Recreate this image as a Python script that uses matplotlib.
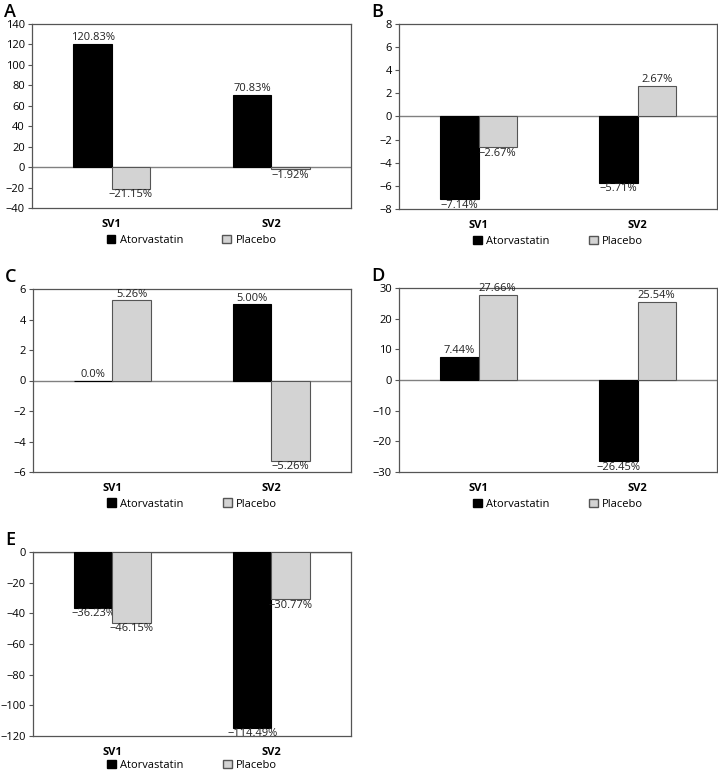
import matplotlib.pyplot as plt
from matplotlib.patches import Patch

plt.rcParams['font.family'] = ['Open Sans', 'DejaVu Sans']

groups = ["SV1", "SV2"]
series = ["Atorvastatin", "Placebo"]

atorva_A = [120.83, 70.83]
placebo_A = [-21.15, -1.92]
atorva_B = [-7.14, -5.71]
placebo_B = [-2.67, 2.67]
atorva_C = [0.0, 5.00]
placebo_C = [5.26, -5.26]
atorva_D = [7.44, -26.45]
placebo_D = [27.66, 25.54]
atorva_E = [-36.23, -114.49]
placebo_E = [-46.15, -30.77]

labels_A = [["120.83%", "70.83%"], ["\u221221.15%", "\u22121.92%"]]
labels_B = [["\u22127.14%", "\u22125.71%"], ["\u22122.67%", "2.67%"]]
labels_C = [["0.0%", "5.00%"], ["5.26%", "\u22125.26%"]]
labels_D = [["7.44%", "\u221226.45%"], ["27.66%", "25.54%"]]
labels_E = [["\u221236.23%", "\u2212114.49%"], ["\u221246.15%", "\u221230.77%"]]

W, H = 718, 770
fig = plt.figure(figsize=(W / 100, H / 100), dpi=100)

colors = ["black", "#d3d3d3"]
edges = ["black", "#555555"]
bw = 0.24


def panel(letter, left, top, right, bottom, a, p, labels, ylim, step, leg_y=-0.12):
    ax = fig.add_axes([left / W, 1 - bottom / H, (right - left) / W, (bottom - top) / H])
    x = [0, 1]
    for k, vals in enumerate([a, p]):
        xs = [xi + (k - 0.5) * bw for xi in x]
        ax.bar(xs, vals, width=bw, color=colors[k], edgecolor=edges[k], linewidth=0.8, zorder=3)
        for xx, v, lab in zip(xs, vals, labels[k]):
            if v >= 0:
                ax.annotate(lab, (xx, v), xytext=(0, 0.5), textcoords="offset points",
                            ha="center", va="bottom", fontsize=8, color="#222222")
            else:
                ax.annotate(lab, (xx, v), xytext=(0, -0.5), textcoords="offset points",
                            ha="center", va="top", fontsize=8, color="#222222")
    ax.axhline(0, color="#808080", linewidth=1, zorder=2)
    ax.set_xlim(-0.5, 1.5)
    ax.set_ylim(*ylim)
    ticks = list(range(ylim[0], ylim[1] + 1, step))
    ax.set_yticks(ticks)
    ax.set_yticklabels([str(t).replace("-", "\u2212") for t in ticks])
    ax.set_xticks(x)
    ax.set_xticklabels(groups, fontweight="bold")
    ax.tick_params(axis="x", length=0, pad=8, labelsize=8)
    ax.tick_params(axis="y", length=3, width=0.8, color="#555555", labelsize=8, pad=2)
    for s in ax.spines.values():
        s.set_color("#555555")
        s.set_linewidth(0.9)
    handles = [Patch(facecolor=colors[i], edgecolor=edges[i], label=series[i]) for i in range(2)]
    ax.legend(handles=handles, loc="upper center", bbox_to_anchor=(0.5, leg_y), ncol=2,
              frameon=False, fontsize=8, handlelength=0.8, handleheight=0.8,
              handletextpad=0.4, columnspacing=3.5, borderaxespad=0)
    fig.text((left - 28) / W, 1 - (top - 12) / H, letter, fontsize=13, fontweight="semibold",
             ha="left", va="center")
    return ax


panel("A", 32, 24, 351, 208, atorva_A, placebo_A, labels_A, (-40, 140), 20)
panel("B", 399, 24, 717, 209, atorva_B, placebo_B, labels_B, (-8, 8), 2)
panel("C", 33, 289, 351, 472, atorva_C, placebo_C, labels_C, (-6, 6), 2)
panel("D", 399, 288, 717, 472, atorva_D, placebo_D, labels_D, (-30, 30), 10)
panel("E", 33, 552, 351, 736, atorva_E, placebo_E, labels_E, (-120, 0), 20, leg_y=-0.105)

fig.savefig("out.png", dpi=100, facecolor="white")
